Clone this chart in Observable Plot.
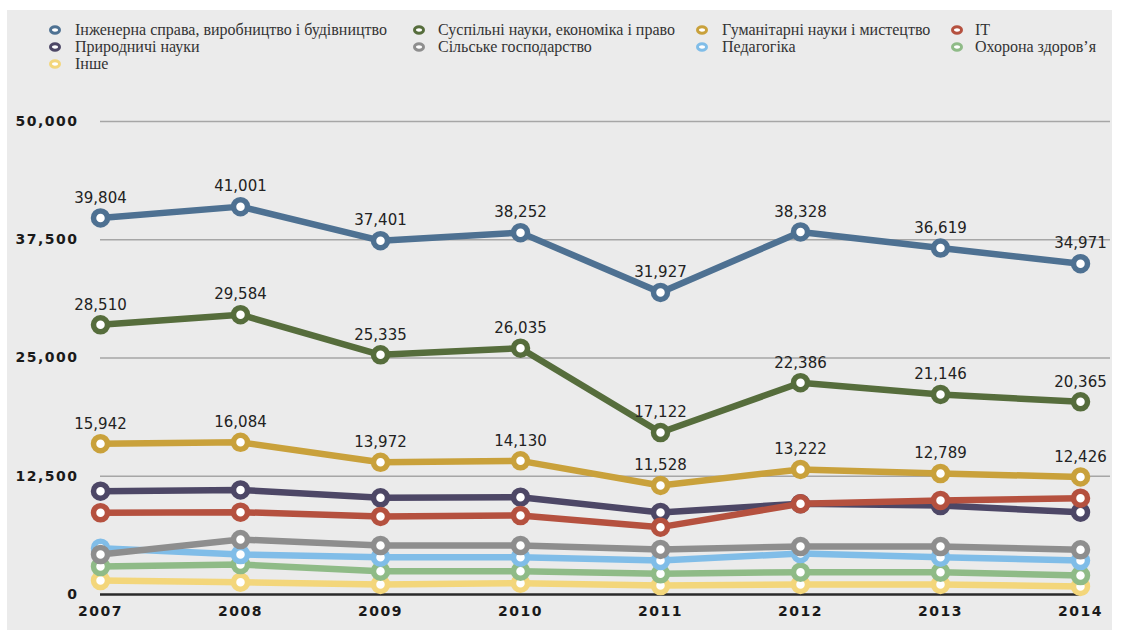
<!DOCTYPE html>
<html><head><meta charset="utf-8">
<script src="https://cdn.jsdelivr.net/npm/d3@7"></script>
<script src="https://cdn.jsdelivr.net/npm/@observablehq/plot@0.6"></script>
<style>
body{margin:0;background:#fff;width:1122px;height:633px;position:relative;overflow:hidden;font-family:"DejaVu Sans",sans-serif}
#panel{position:absolute;left:7px;top:10px;width:1105px;height:620px;background:#ebebeb}
.item{position:absolute;font-family:"Liberation Serif",serif;font-size:16px;color:#333;white-space:nowrap;line-height:17px;height:17px}
.mk{position:absolute}
#chart{position:absolute;left:0;top:85px}
#chart svg g[aria-label="y-axis tick label"] text,#chart svg g[aria-label="x-axis tick label"] text{letter-spacing:1.5px}
</style></head><body>
<div id="panel"></div>
<div id="legend"></div>
<div id="chart"></div>
<script>
const years = [2007, 2008, 2009, 2010, 2011, 2012, 2013, 2014];
const seriesNames = [
  "Інженерна справа, виробництво і будівництво",
  "Суспільні науки, економіка і право",
  "Гуманітарні науки і мистецтво",
  "IT",
  "Природничі науки",
  "Сільське господарство",
  "Педагогіка",
  "Охорона здоров’я",
  "Інше"
];
const seriesColors = ["#4e7192", "#566d3c", "#c9a13b", "#b5513f", "#4d4766", "#8e8e8e", "#80bde8", "#8fbb87", "#f3d67b"];
const engineering = [39804, 41001, 37401, 38252, 31927, 38328, 36619, 34971];
const social      = [28510, 29584, 25335, 26035, 17122, 22386, 21146, 20365];
const humanities  = [15942, 16084, 13972, 14130, 11528, 13222, 12789, 12426];
const itValues    = [8640, 8700, 8250, 8350, 7120, 9590, 9940, 10180];
const natural     = [10920, 11050, 10220, 10290, 8670, 9600, 9400, 8700];
const agriculture = [4230, 5810, 5180, 5180, 4760, 5070, 5070, 4720];
const pedagogy    = [4900, 4230, 3950, 3950, 3590, 4330, 3950, 3590];
const health      = [2960, 3170, 2470, 2470, 2190, 2360, 2360, 2010];
const other       = [1480, 1300, 1060, 1200, 950, 1060, 1060, 850];
const seriesValues = [engineering, social, humanities, itValues, natural, agriculture, pedagogy, health, other];
const labeledSeries = [0, 1, 2];
const yTicks = [0, 12500, 25000, 37500, 50000];

const rows = [];
seriesValues.forEach((vals, si) => vals.forEach((v, i) => rows.push({series: seriesNames[si], si, year: years[i], value: v})));

// legend
const legend = document.getElementById("legend");
const colMarker = [55, 419, 702, 957], colText = [75, 438, 722, 975], rowY = [30, 47, 64];
seriesNames.forEach((name, i) => {
  const r = Math.floor(i / 4), c = i % 4;
  const mk = document.createElementNS("http://www.w3.org/2000/svg", "svg");
  mk.setAttribute("width", 16); mk.setAttribute("height", 12);
  mk.setAttribute("class", "mk");
  mk.style.left = (colMarker[c] - 8) + "px"; mk.style.top = (rowY[r] - 6) + "px";
  mk.innerHTML = `<ellipse cx="8" cy="6" rx="4.5" ry="3.2" fill="#fff" stroke="${seriesColors[i]}" stroke-width="3"/>`;
  legend.appendChild(mk);
  const t = document.createElement("div");
  t.className = "item"; t.textContent = name;
  t.style.left = colText[c] + "px"; t.style.top = (rowY[r] - 9) + "px";
  legend.appendChild(t);
});

const marks = [
  Plot.ruleY(yTicks.filter(d => d > 0), {stroke: "#a6a6a6", strokeWidth: 1.5}),
  Plot.ruleY([0], {x1: years[0], x2: years[years.length - 1], stroke: "#2a2a2a", strokeWidth: 2.5}),
  Plot.axisY({ticks: yTicks, tickSize: 0, tickPadding: 22, tickFormat: d3.format(","), fontSize: 14, fontWeight: "bold", label: null, fill: "#1a1a1a"}),
  Plot.axisX({ticks: years, tickSize: 0, tickPadding: 12, tickFormat: d => String(d), fontSize: 14, fontWeight: "bold", label: null, fill: "#1a1a1a"})
];
for (let si = seriesNames.length - 1; si >= 0; si--) {
  const data = rows.filter(d => d.si === si);
  marks.push(Plot.line(data, {x: "year", y: "value", stroke: seriesColors[si], strokeWidth: 6.5, strokeLinejoin: "round", strokeLinecap: "round"}));
  marks.push(Plot.dot(data, {x: "year", y: "value", r: 7, fill: "#fff", stroke: seriesColors[si], strokeWidth: 5.5}));
}
for (const si of labeledSeries) {
  marks.push(Plot.text(rows.filter(d => d.si === si), {x: "year", y: "value", text: d => d3.format(",")(d.value), dy: -20, fontSize: 15, fill: "#222", fontFamily: "DejaVu Sans"}));
}

const chart = Plot.plot({
  width: 1122,
  height: 548,
  marginTop: 36,
  marginBottom: 39,
  marginLeft: 100,
  marginRight: 12,
  style: {background: "transparent", fontFamily: "DejaVu Sans"},
  x: {domain: [2007, 2014 + 30 / 140]},
  y: {domain: [0, 50000]},
  marks
});
document.getElementById("chart").appendChild(chart);
</script>
</body></html>
